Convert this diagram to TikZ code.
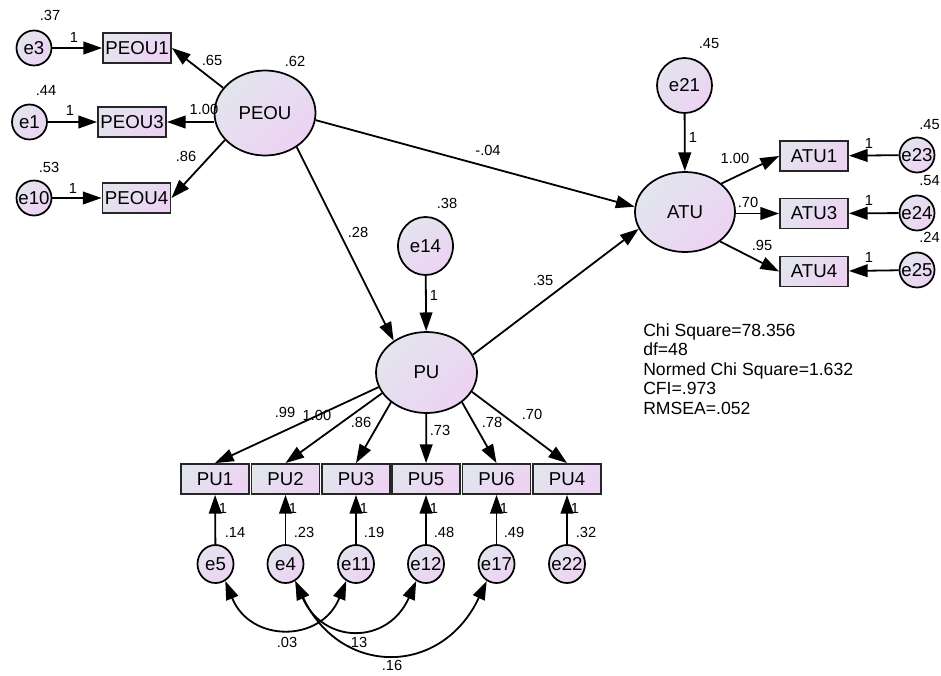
\documentclass[tikz,border=0pt]{standalone}
\usepackage{fontspec}
\setmainfont{Liberation Sans}
\usetikzlibrary{arrows.meta,shapes.geometric}
\definecolor{gA}{RGB}{226,229,238}
\definecolor{gB}{RGB}{237,210,243}
\newcommand{\zb}[1]{\makebox[0pt]{#1}}
\begin{document}
\begin{tikzpicture}[x=0.75pt,y=-0.75pt,
  fillg/.style={top color=gA,bottom color=gB,shading angle=45},
  obs/.style={draw=black!85,line width=1.4pt,fillg,rectangle,minimum width=51pt,minimum height=22.5pt,inner sep=0pt,font=\fontsize{14}{15}\selectfont},
  err/.style={draw,line width=1.3pt,fillg,ellipse,minimum width=26.25pt,minimum height=26.25pt,inner sep=0pt,font=\fontsize{14}{15}\selectfont},
  errb/.style={err,minimum width=27pt,minimum height=28.5pt},
  errbig/.style={err,minimum width=41.25pt,minimum height=42pt},
  lat/.style={draw,line width=1.3pt,fillg,ellipse,minimum width=75.75pt,minimum height=61.5pt,inner sep=0pt,font=\fontsize{14}{15}\selectfont},
  lbl/.style={font=\fontsize{11}{12}\selectfont,inner sep=0pt},
  st/.style={font=\fontsize{13.2}{14}\selectfont,inner sep=0pt,anchor=base west},
  arr/.style={-{Triangle[length=14pt,width=9.5pt]},line width=1.35pt},
  cov/.style={{Triangle[length=14pt,width=9.5pt]}-{Triangle[length=14pt,width=9.5pt]},line width=1.35pt},
]
\useasboundingbox (0,0) rectangle (941,675);
\clip (0,0) rectangle (941,675);

% ---------- PEOU block ----------
\node[err] (e3) at (34,48) {\zb{e3}};
\node[obs] (PEOU1) at (137,48) {PEOU1};
\node[err] (e1) at (29.5,122) {\zb{e1}};
\node[obs] (PEOU3) at (132,122) {PEOU3};
\node[err] (e10) at (34,198) {\zb{e10}};
\node[obs] (PEOU4) at (136.5,198) {PEOU4};
\node[lat,minimum height=63.75pt] (PEOU) at (265,113) {PEOU};

% ---------- ATU block ----------
\node[errbig,minimum height=41.25pt] (e21) at (684.5,85.5) {e21};
\node[lat,minimum width=75pt,minimum height=60pt] (ATU) at (685,212) {ATU};
\node[obs] (ATU1) at (814,156) {ATU1};
\node[obs] (ATU3) at (814,213.5) {ATU3};
\node[obs] (ATU4) at (814,271.5) {ATU4};
\node[err] (e23) at (917,155) {\zb{e23}};
\node[err] (e24) at (917,213) {\zb{e24}};
\node[err] (e25) at (917,270) {\zb{e25}};

% ---------- PU block ----------
\node[errbig,minimum height=43.5pt] (e14) at (425.5,246) {e14};
\node[lat,minimum height=60.75pt] (PU) at (426.5,372.5) {PU};
\node[obs] (PU1) at (215,479) {PU1};
\node[obs] (PU2) at (285.5,479) {PU2};
\node[obs] (PU3) at (356,479) {PU3};
\node[obs] (PU5) at (426,479) {PU5};
\node[obs] (PU6) at (496.5,479) {PU6};
\node[obs] (PU4) at (567,479) {PU4};
\node[errb] (e5) at (215.5,564) {\zb{e5}};
\node[errb] (e4) at (285.5,564) {\zb{e4}};
\node[errb] (e11) at (356,564) {\zb{e11}};
\node[errb] (e12) at (426,564) {\zb{e12}};
\node[errb] (e17) at (496.5,564) {\zb{e17}};
\node[errb] (e22) at (567,564) {\zb{e22}};

% ---------- connectors ----------
\draw[arr] (e3) -- (PEOU1);
\draw[arr] (e1) -- (PEOU3);
\draw[arr] (e10) -- (PEOU4);
\draw[arr] (PEOU.149) -- (PEOU1.east);
\draw[arr] (PEOU3.east -| PEOU.west) -- (PEOU3.east);
\draw[arr] (PEOU.214) -- (PEOU4.east);
\draw[arr] (PEOU.352) -- (ATU.174);
\draw[arr] (PEOU.313) -- (PU.136);
\draw[arr] (e14) -- (PU);
\draw[arr] (PU.21) -- (ATU.200);
\draw[arr] (e21) -- (ATU);
\draw[arr] (ATU.38) -- (ATU1.west);
\draw[arr] (ATU3.west -| ATU.east) -- (ATU3.west);
\draw[arr] (ATU.320) -- (ATU4.west);
\draw[arr] (e23) -- (ATU1);
\draw[arr] (e24) -- (ATU3);
\draw[arr] (e25) -- (ATU4);
\draw[arr] (PU.197) -- (PU1.north);
\draw[arr] (PU.205) -- (PU2.north);
\draw[arr] (PU.220) -- (PU3.north);
\draw[arr] (PU) -- (PU5);
\draw[arr] (PU.320) -- (PU6.north);
\draw[arr] (PU.337) -- (PU4.north);
\draw[arr] (e5) -- (PU1);
\draw[arr] (e4) -- (PU2);
\draw[arr] (e11) -- (PU3);
\draw[arr] (e12) -- (PU5);
\draw[arr] (e17) -- (PU6);
\draw[arr] (e22) -- (PU4);
\draw[cov] (e5.300) .. controls +(25,62) and +(-25,62) .. (e11.240);
\draw[cov] (e4.300) .. controls +(28,64) and +(-28,64) .. (e12.240);
\draw[cov] (e4.300) .. controls +(45,96) and +(-45,96) .. (e17.240);

% ---------- labels ----------
\node[lbl] (l1) at (50,15) {.37};
\node[lbl] (l2) at (74,37) {1};
\node[lbl] (l3) at (212,60) {.65};
\node[lbl] (l4) at (295,61) {.62};
\node[lbl] (l5) at (46,90) {.44};
\node[lbl] (l6) at (70,110) {1};
\node[lbl] (l7) at (204,109) {1.00};
\node[lbl] (l8) at (49,167) {.53};
\node[lbl] (l9) at (73,188) {1};
\node[lbl] (l10) at (186,156) {.86};
\node[lbl] (l11) at (488,150) {-.04};
\node[lbl] (l12) at (358,232) {.28};
\node[lbl] (l13) at (447,203) {.38};
\node[lbl] (l14) at (434,295) {1};
\node[lbl] (l15) at (543,280) {.35};
\node[lbl] (l16) at (709,44) {.45};
\node[lbl] (l17) at (693,137) {1};
\node[lbl] (l18) at (735,158) {1.00};
\node[lbl] (l19) at (748,202) {.70};
\node[lbl] (l20) at (762,245) {.95};
\node[lbl] (l21) at (869,143) {1};
\node[lbl] (l22) at (869,200) {1};
\node[lbl] (l23) at (869,257) {1};
\node[lbl,anchor=east] (l24) at (940,125) {.45};
\node[lbl,anchor=east] (l25) at (940,181) {.54};
\node[lbl,anchor=east] (l26) at (940,237) {.24};
\node[lbl] (l27) at (285,412) {.99};
\node[lbl] (l28) at (317,415) {1.00};
\node[lbl] (l29) at (361,422) {.86};
\node[lbl] (l30) at (440,430) {.73};
\node[lbl] (l31) at (492,422) {.78};
\node[lbl] (l32) at (532,414) {.70};
\node[lbl] (l33) at (223,508) {1};
\node[lbl] (l34) at (235,532) {.14};
\node[lbl] (l35) at (293,508) {1};
\node[lbl] (l36) at (304,532) {.23};
\node[lbl] (l37) at (364,508) {1};
\node[lbl] (l38) at (374,532) {.19};
\node[lbl] (l39) at (434,508) {1};
\node[lbl] (l40) at (444,532) {.48};
\node[lbl] (l41) at (504,508) {1};
\node[lbl] (l42) at (514,532) {.49};
\node[lbl] (l43) at (575,508) {1};
\node[lbl] (l44) at (586,532) {.32};
\node[lbl] (l45) at (287,642) {.03};
\node[lbl] (l46) at (357,642) {.13};
\node[lbl] (l47) at (392,665) {.16};

% ---------- fit statistics ----------
\node[st] (s1) at (643,336) {Chi Square=78.356};
\node[st] (s2) at (643,355.5) {df=48};
\node[st] (s3) at (643,375) {Normed Chi Square=1.632};
\node[st] (s4) at (643,394.5) {CFI=.973};
\node[st] (s5) at (643,414) {RMSEA=.052};
\end{tikzpicture}
\end{document}
